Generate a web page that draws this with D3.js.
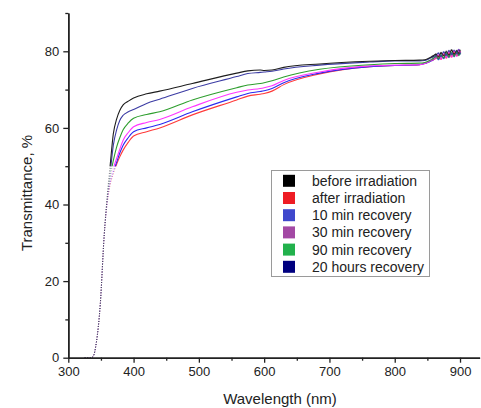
<!DOCTYPE html>
<html>
<head>
<meta charset="utf-8">
<script src="https://cdn.jsdelivr.net/npm/d3@7"></script>
<style>
  html, body { margin: 0; padding: 0; background: #fff; }
  svg { display: block; font-family: "Liberation Sans", Arial, sans-serif; }
</style>
</head>
<body>
<svg id="chart" width="481" height="408"></svg>
<script>
// ---------------- DATA ----------------
const wavelengths = [325, 335, 338, 343, 349, 355, 360, 364, 369, 374, 379, 384, 392, 400, 420, 440, 490, 558, 575, 594, 600, 612, 630, 685, 762, 800, 838,
  846, 852, 858, 863, 867, 871, 875, 879, 883, 887, 891, 895, 898, 900];

const seriesNames = ["before irradiation", "after irradiation", "10 min recovery", "30 min recovery", "90 min recovery", "20 hours recovery"];

const beforeIrradiation = [0, 0, 0.3, 4, 14, 32, 43, 50, 58.5, 62.3, 64.6, 66.0, 67.0, 67.8, 68.9, 69.6, 71.6, 74.3, 74.9, 75.1, 75.0, 75.1, 75.8, 76.7, 77.4, 77.6, 77.7,
  77.8, 78.2, 78.7, 79.2, 78.6, 79.6, 78.9, 79.9, 79.1, 80.3, 79.3, 80.1, 79.5, 80.2];
const afterIrradiation  = [0, 0, 0.3, 4, 14, 32, 41, 45, 48.0, 50.5, 52.5, 54.2, 56.3, 57.9, 59.0, 60.0, 63.4, 67.3, 68.3, 68.8, 69.0, 69.6, 71.3, 74.1, 76.0, 76.3, 76.5,
  76.8, 77.2, 77.7, 78.2, 78.7, 78.0, 79.1, 78.3, 79.4, 78.6, 79.7, 78.9, 79.5, 79.8];
const min10Recovery     = [0, 0, 0.3, 4, 14, 32, 41, 45.5, 48.5, 51.0, 53.5, 55.5, 57.5, 59.0, 60.0, 60.9, 64.2, 68.1, 69.0, 69.5, 69.7, 70.3, 71.8, 74.3, 76.0, 76.3, 76.5,
  76.8, 77.2, 77.7, 78.5, 77.9, 78.9, 78.2, 79.2, 78.5, 79.5, 78.7, 79.9, 79.1, 79.4];
const min30Recovery     = [0, 0, 0.3, 4, 14, 32, 41.5, 46, 49.5, 52.0, 54.5, 56.8, 58.8, 60.3, 61.4, 62.2, 65.5, 69.3, 69.9, 70.3, 70.5, 71.0, 72.4, 74.6, 76.2, 76.4, 76.5,
  76.8, 77.3, 77.8, 78.3, 79.0, 78.0, 79.3, 78.4, 79.7, 78.6, 80.0, 78.8, 80.3, 79.8];
const min90Recovery     = [0, 0, 0.3, 4, 14, 32, 42, 47, 51.5, 55.0, 57.5, 59.5, 61.3, 62.5, 63.5, 64.2, 67.3, 70.5, 71.2, 71.6, 71.8, 72.3, 73.3, 75.3, 76.5, 76.8, 76.9,
  77.1, 77.5, 78.0, 78.6, 78.1, 79.0, 78.3, 79.4, 78.6, 79.6, 78.8, 79.8, 79.0, 79.4];
const hours20Recovery   = [0, 0, 0.3, 4, 14, 32, 42.5, 48, 55.5, 59.5, 62.0, 63.3, 64.2, 64.8, 66.4, 67.5, 70.3, 73.4, 74.2, 74.5, 74.6, 74.8, 75.4, 76.4, 77.2, 77.5, 77.5,
  77.6, 78.0, 78.5, 78.9, 79.5, 78.7, 79.8, 79.0, 80.1, 79.2, 80.2, 79.4, 80.4, 79.6];

const seriesValues = [beforeIrradiation, afterIrradiation, min10Recovery, min30Recovery, min90Recovery, hours20Recovery];

const xTickValues = [300, 400, 500, 600, 700, 800, 900];
const yTickValues = [0, 20, 40, 60, 80];

// ---------------- STYLE ----------------
const lineColors   = ["#1e1e1e", "#ff3a3a", "#2a2af0", "#ff35ff", "#2e9e2e", "#3c3ca4"];
const legendColors = ["#000000", "#ee1c24", "#3f48cc", "#a349a4", "#22b14c", "#00007f"];
const drawOrder = [1, 2, 3, 4, 5, 0];

const svg = d3.select("#chart");
const margin = { left: 68.3, top: 13, right: 1.4, bottom: 50.3 };
const W = 481, H = 408;

const x = d3.scaleLinear().domain([300, 930]).range([margin.left, W - margin.right]);
const y = d3.scaleLinear().domain([0, 90]).range([H - margin.bottom, margin.top]);

// clip regions: steep sparse rise (dotted) vs. dense plateau (solid)
const splitT = 50;
const defs = svg.append("defs");
defs.append("clipPath").attr("id", "clipLow").append("rect")
  .attr("x", 0).attr("y", y(splitT)).attr("width", W).attr("height", H - y(splitT));
defs.append("clipPath").attr("id", "clipHigh").append("rect")
  .attr("x", 0).attr("y", 0).attr("width", W).attr("height", y(splitT));

const lineGen = d3.line()
  .x(d => x(d[0]))
  .y(d => y(d[1]))
  .curve(d3.curveMonotoneX);

const plot = svg.append("g");
drawOrder.forEach(si => {
  const pts = wavelengths.map((w, i) => [w, seriesValues[si][i]]);
  plot.append("path")
    .attr("d", lineGen(pts))
    .attr("clip-path", "url(#clipLow)")
    .attr("fill", "none")
    .attr("stroke", lineColors[si])
    .attr("stroke-opacity", 0.5)
    .attr("stroke-width", 1)
    .attr("stroke-dasharray", "1,1.6");
  plot.append("path")
    .attr("d", lineGen(pts))
    .attr("clip-path", "url(#clipHigh)")
    .attr("fill", "none")
    .attr("stroke", lineColors[si])
    .attr("stroke-width", 1.1);
});

// noisy tail dots
drawOrder.forEach(si => {
  const pts = wavelengths.map((w, i) => [w, seriesValues[si][i]]).filter(d => d[0] >= 858);
  plot.selectAll(null).data(pts).enter().append("circle")
    .attr("cx", d => x(d[0]))
    .attr("cy", d => y(d[1]))
    .attr("r", 1.1)
    .attr("fill", lineColors[si])
    .attr("opacity", 0.55);
});

// ---------------- AXES ----------------
const axisColor = "#222";
const xMajor = d3.axisBottom(x).tickValues(xTickValues).tickSize(5).tickSizeOuter(0).tickPadding(4).tickFormat(d3.format("d"));
const xMinor = d3.axisBottom(x).tickValues([350, 450, 550, 650, 750, 850]).tickSize(3).tickSizeOuter(0).tickFormat("");
const yMajor = d3.axisLeft(y).tickValues(yTickValues).tickSize(5).tickSizeOuter(0).tickPadding(4).tickFormat(d3.format("d"));
const yMinor = d3.axisLeft(y).tickValues([10, 30, 50, 70, 90]).tickSize(3).tickSizeOuter(0).tickFormat("");

function styleAxis(g) {
  g.select(".domain").attr("stroke", axisColor).attr("stroke-width", 1.5);
  g.selectAll(".tick line").attr("stroke", axisColor).attr("stroke-width", 1.3);
  g.selectAll(".tick text").attr("fill", "#222").style("font-size", "13px").style("font-family", "Liberation Sans, Arial, sans-serif");
}

svg.append("g").attr("transform", `translate(0,${y(0)})`).call(xMinor).call(styleAxis);
svg.append("g").attr("transform", `translate(0,${y(0)})`).call(xMajor).call(styleAxis);
svg.append("g").attr("transform", `translate(${x(300)},0)`).call(yMinor).call(styleAxis);
svg.append("g").attr("transform", `translate(${x(300)},0)`).call(yMajor).call(styleAxis);

// axis titles
svg.append("text")
  .attr("x", 280).attr("y", 404)
  .attr("text-anchor", "middle")
  .style("font-size", "15px").attr("fill", "#222")
  .text("Wavelength (nm)");

svg.append("text")
  .attr("transform", "translate(32,193) rotate(-90)")
  .attr("text-anchor", "middle")
  .style("font-size", "15px").attr("fill", "#222")
  .text("Transmittance, %");

// ---------------- LEGEND ----------------
const legend = svg.append("g");
legend.append("rect")
  .attr("x", 271.5).attr("y", 170.5).attr("width", 158).attr("height", 106)
  .attr("fill", "#fff").attr("stroke", "#9a9a9a").attr("stroke-width", 1);

seriesNames.forEach((name, i) => {
  const cy = 180.8 + i * 17.2;
  legend.append("rect")
    .attr("x", 283).attr("y", cy - 6).attr("width", 12).attr("height", 12)
    .attr("fill", legendColors[i]);
  legend.append("text")
    .attr("x", 312).attr("y", cy + 5)
    .style("font-size", "14px").attr("fill", "#222")
    .text(name);
});
</script>
</body>
</html>
